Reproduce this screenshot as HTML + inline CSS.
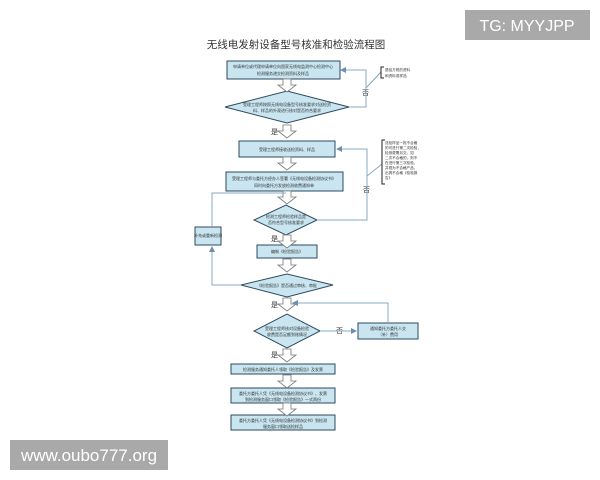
<!DOCTYPE html>
<html><head><meta charset="utf-8"><style>
html,body{margin:0;padding:0;background:#fff;width:600px;height:480px;overflow:hidden}
svg{display:block}
text{font-family:"Liberation Sans","Noto Sans CJK SC",sans-serif}
</style></head><body>
<svg width="600" height="480" viewBox="0 0 600 480" xmlns="http://www.w3.org/2000/svg">
<defs>
<marker id="ah" markerWidth="6" markerHeight="6" refX="5" refY="3" orient="auto"><path d="M0,0 L6,3 L0,6 Z" fill="#6a8fb0"/></marker>
<g id="barrow"><path d="M-4,0 H4 V6 H9 L0,13 L-9,6 H-4 Z" fill="#fff" stroke="#777" stroke-width="0.8"/></g>
</defs>
<text x="296" y="48" font-size="10.5" text-anchor="middle" fill="#333">无线电发射设备型号核准和检验流程图</text>
<g fill="#c8e5f0" stroke="#2e4a60" stroke-width="1">
<rect x="227" y="61" width="113" height="18"/>
<polygon points="225,107 287,91 349,107 287,123"/>
<rect x="239" y="141" width="96" height="16"/>
<rect x="226" y="172" width="117" height="19"/>
<polygon points="254,220 286,205 317,220 286,235"/>
<rect x="195" y="227" width="26" height="18"/>
<rect x="257" y="245" width="60" height="13"/>
<polygon points="241,285 287,274 333,285 287,297"/>
<polygon points="254,331 287,314 320,331 287,348"/>
<rect x="358" y="323" width="60" height="16"/>
<rect x="231" y="364" width="104" height="10"/>
<rect x="231" y="388" width="104" height="15"/>
<rect x="231" y="415" width="104" height="15"/>
</g>
<g font-size="4" fill="#333" text-anchor="middle">
<text x="283" y="68">申请单位或代理申请单位向国家无线电监测中心检测中心</text>
<text x="283" y="75">检测服务递交检测资料及样品</text>
<text x="287" y="106">受理工程师按照无线电设备型号核准要求对送检资</text>
<text x="287" y="112">料、样品的外观进行核对是否符合要求</text>
<text x="287" y="151">受理工程师接收送检资料、样品</text>
<text x="284" y="180">受理工程师与委托方经办人签署《无线电设备检测协议书》</text>
<text x="284" y="187">同时向委托方发放检测收费通知单</text>
<text x="286" y="218">检测工程师检验样品是</text>
<text x="286" y="224">否符合型号核准要求</text>
<text x="208" y="237">补充或重新检测</text>
<text x="287" y="253">编制《检验报告》</text>
<text x="287" y="287">《检验报告》是否通过审核、审批</text>
<text x="287" y="330">受理工程师核对设备检验</text>
<text x="287" y="336">收费是否足额到账情况</text>
<text x="388" y="330">通知委托方委托人交</text>
<text x="388" y="336">（补）费用</text>
<text x="283" y="371">检测服务通知委托人领取《检验报告》及发票</text>
<text x="283" y="395">委托方委托人凭《无线电设备检测协议书》、发票</text>
<text x="283" y="401">到检测服务窗口领取《检验报告》一式两份</text>
<text x="283" y="422">委托方委托人凭《无线电设备检测协议书》到检测</text>
<text x="283" y="428">服务窗口领取送检样品</text>
</g>
<use href="#barrow" x="287" y="79"/>
<use href="#barrow" x="287" y="125"/>
<use href="#barrow" x="287" y="157"/>
<use href="#barrow" x="287" y="191"/>
<use href="#barrow" x="287" y="235"/>
<use href="#barrow" x="287" y="259"/>
<use href="#barrow" x="287" y="298"/>
<use href="#barrow" x="287" y="349"/>
<use href="#barrow" x="287" y="375"/>
<use href="#barrow" x="287" y="403"/>
<g font-size="7" fill="#333">
<text x="271" y="134">是</text>
<text x="271" y="241">是</text>
<text x="271" y="307">是</text>
<text x="271" y="357">是</text>
<text x="362" y="95">否</text>
<text x="363" y="192">否</text>
<text x="336" y="333">否</text>
</g>
<g fill="none" stroke="#8aa8c0" stroke-width="1">
<polyline points="349,107 366,107 366,70 341,70" marker-end="url(#ah)"/>
<line x1="366" y1="88" x2="381" y2="72"/>
<polyline points="317,220 367,220 367,149 337,149" marker-end="url(#ah)"/>
<line x1="367" y1="176" x2="382" y2="164"/>
<polyline points="241,285 212,285 212,247" marker-end="url(#ah)"/>
<polyline points="212,227 212,193 286,193"/>
<line x1="320" y1="331" x2="356" y2="331" marker-end="url(#ah)"/>
<polyline points="388,323 388,303 293,303" marker-end="url(#ah)"/>
</g>
<g fill="none" stroke="#222" stroke-width="1">
<polyline points="384,67 381,67 381,78 384,78"/>
<polyline points="385,140 382,140 382,184 385,184"/>
</g>
<g font-size="3.6" fill="#333">
<text x="385" y="71">退给方税的资料</text>
<text x="385" y="77">和资料或样品</text>
<text x="385" y="144">送检样品一批不合格</text>
<text x="385" y="149">的可进行第二次检验，</text>
<text x="385" y="154">检测费需另交，如</text>
<text x="385" y="159">二次不合格的，则不</text>
<text x="385" y="164">在进行第三次检验，</text>
<text x="385" y="169">并视为不合格产品，</text>
<text x="385" y="174">出具不合格《检验报</text>
<text x="385" y="179">告》</text>
</g>
<rect x="465" y="10" width="125" height="30" fill="#a9a9a9"/>
<text x="527" y="31" font-size="16" fill="#fff" text-anchor="middle">TG: MYYJPP</text>
<rect x="10" y="440" width="158" height="30" fill="#a9a9a9"/>
<text x="89" y="461" font-size="17" fill="#fff" text-anchor="middle">www.oubo777.org</text>
</svg>
</body></html>
